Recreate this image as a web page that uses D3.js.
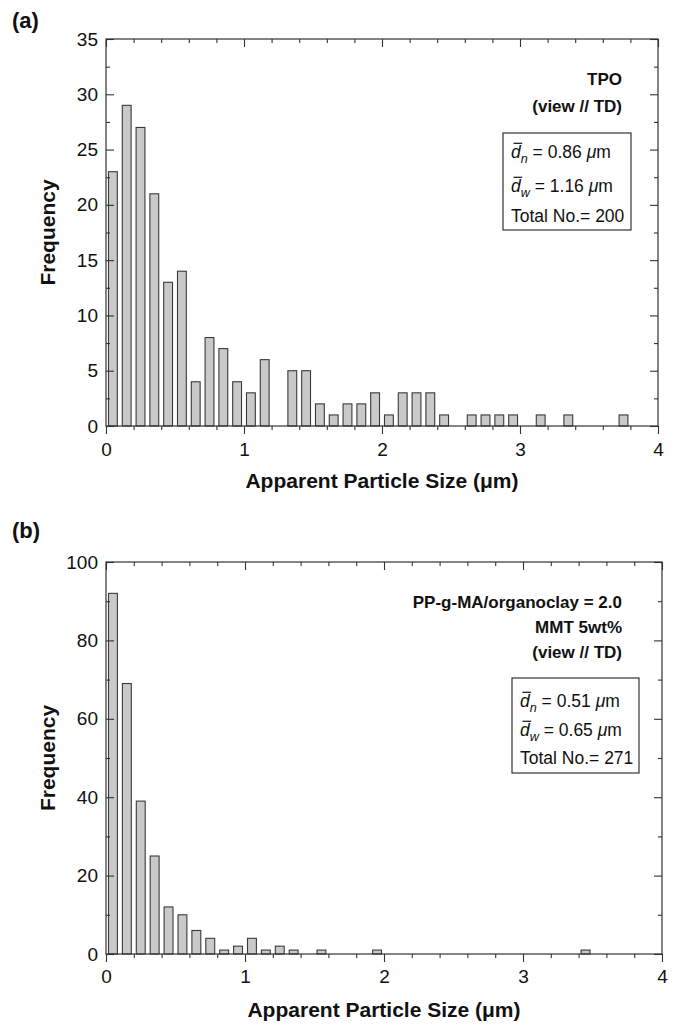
<!DOCTYPE html>
<html><head><meta charset="utf-8">
<script src="https://cdn.jsdelivr.net/npm/d3@7"></script>
<style>
body{margin:0;background:#fff}
svg{display:block}
text{font-family:"Liberation Sans",Arial,Helvetica,sans-serif;fill:#111}
</style>
</head><body>
<svg id="c" width="680" height="1025"></svg>
<script>
// ---------- data ----------
const sizesA = [0.05,0.15,0.25,0.35,0.45,0.55,0.65,0.75,0.85,0.95,
                1.05,1.15,1.25,1.35,1.45,1.55,1.65,1.75,1.85,1.95,
                2.05,2.15,2.25,2.35,2.45,2.55,2.65,2.75,2.85,2.95,
                3.05,3.15,3.25,3.35,3.45,3.55,3.65,3.75];
const freqA  = [23,29,27,21,13,14,4,8,7,4,
                3,6,0,5,5,2,1,2,2,3,
                1,3,3,3,1,0,1,1,1,1,
                0,1,0,1,0,0,0,1];
const sizesB = [0.05,0.15,0.25,0.35,0.45,0.55,0.65,0.75,0.85,0.95,
                1.05,1.15,1.25,1.35,1.45,1.55,1.65,1.75,1.85,1.95,
                2.05,2.15,2.25,2.35,2.45,2.55,2.65,2.75,2.85,2.95,
                3.05,3.15,3.25,3.35,3.45];
const freqB  = [92,69,39,25,12,10,6,4,1,2,
                4,1,2,1,0,1,0,0,0,1,
                0,0,0,0,0,0,0,0,0,0,
                0,0,0,0,1];
const xTicks = [0,1,2,3,4];
const xMinor = [0.2,0.4,0.6,0.8,1.2,1.4,1.6,1.8,2.2,2.4,2.6,2.8,3.2,3.4,3.6,3.8];
const yTicksA = [0,5,10,15,20,25,30,35];
const yMinorA = [2.5,7.5,12.5,17.5,22.5,27.5,32.5];
const yTicksB = [0,20,40,60,80,100];
const yMinorB = [10,30,50,70,90];
const labelsA = ["TPO","(view // TD)"];
const labelsB = ["PP-g-MA/organoclay = 2.0","MMT 5wt%","(view // TD)"];
const statsA = ["0.86","1.16","200"];
const statsB = ["0.51","0.65","271"];
const xTitle = "Apparent Particle Size (\u03bcm)";
const yTitle = "Frequency";

const svg = d3.select("#c");
const FONT_TICK = 19, FONT_TITLE = 21, FONT_LAB = 17, FONT_BOX = 17.5;

function panel(cfg){
  const g = svg.append("g");
  const x = d3.scaleLinear().domain([0,4]).range([cfg.left,cfg.right]);
  const y = d3.scaleLinear().domain([0,cfg.yMax]).range([cfg.bottom,cfg.top]);

  // bars
  const data = cfg.sizes.map((s,i)=>({s, f:cfg.freq[i]})).filter(d=>d.f>0);
  const bw = 0.064;
  g.selectAll("rect.bar").data(data).enter().append("rect")
    .attr("class","bar")
    .attr("x",d=>x(d.s-bw/2)).attr("width",x(bw)-x(0))
    .attr("y",d=>y(d.f)).attr("height",d=>y(0)-y(d.f))
    .attr("fill","#c9c9c9").attr("stroke","#3a3a3a").attr("stroke-width",1.1);

  const style = sel => {
    sel.select(".domain").remove();
    sel.selectAll("line").attr("stroke","#333").attr("stroke-width",1.1);
    sel.selectAll("text").attr("font-size",FONT_TICK).attr("fill","#111")
       .style("font-family",'"Liberation Sans",Arial,sans-serif');
  };
  // bottom (outward)
  g.append("g").attr("transform",`translate(0,${cfg.bottom})`)
    .call(d3.axisBottom(x).tickValues(xTicks).tickSize(8).tickPadding(cfg.xPad).tickFormat(d3.format("d"))).call(style);
  g.append("g").attr("transform",`translate(0,${cfg.bottom})`)
    .call(d3.axisBottom(x).tickValues(xMinor).tickSize(4).tickFormat("")).call(style);
  // top (inward)
  g.append("g").attr("transform",`translate(0,${cfg.top})`)
    .call(d3.axisTop(x).tickValues(xTicks).tickSize(-8).tickFormat("")).call(style);
  g.append("g").attr("transform",`translate(0,${cfg.top})`)
    .call(d3.axisTop(x).tickValues(xMinor).tickSize(-4).tickFormat("")).call(style);
  // left (inward)
  g.append("g").attr("transform",`translate(${cfg.left},0)`)
    .call(d3.axisLeft(y).tickValues(cfg.yTicks).tickSize(-8).tickPadding(8).tickFormat(d3.format("d"))).call(style);
  g.append("g").attr("transform",`translate(${cfg.left},0)`)
    .call(d3.axisLeft(y).tickValues(cfg.yMinor).tickSize(-4).tickFormat("")).call(style);
  // right (inward)
  g.append("g").attr("transform",`translate(${cfg.right},0)`)
    .call(d3.axisRight(y).tickValues(cfg.yTicks).tickSize(-8).tickFormat("")).call(style);
  g.append("g").attr("transform",`translate(${cfg.right},0)`)
    .call(d3.axisRight(y).tickValues(cfg.yMinor).tickSize(-4).tickFormat("")).call(style);

  // frame
  g.append("rect").attr("x",cfg.left).attr("y",cfg.top)
    .attr("width",cfg.right-cfg.left).attr("height",cfg.bottom-cfg.top)
    .attr("fill","none").attr("stroke","#333").attr("stroke-width",1.2);

  // titles
  g.append("text").attr("x",(cfg.left+cfg.right)/2).attr("y",cfg.xTitleY)
    .attr("text-anchor","middle").attr("font-size",FONT_TITLE).attr("font-weight","bold").text(xTitle);
  g.append("text").attr("transform",`translate(${cfg.yTitleX},${(cfg.top+cfg.bottom)/2}) rotate(-90)`)
    .attr("text-anchor","middle").attr("font-size",FONT_TITLE).attr("font-weight","bold").text(yTitle);
  g.append("text").attr("x",12).attr("y",cfg.letterY).attr("font-size",22)
    .attr("font-weight","bold").text(cfg.letter);

  // labels
  cfg.labels.forEach((t,i)=>{
    g.append("text").attr("x",cfg.labRight).attr("y",cfg.labY0+i*cfg.labDy)
      .attr("text-anchor","end").attr("font-size",FONT_LAB).attr("font-weight","bold").text(t);
  });

  // stats box
  const bx = cfg.box;
  g.append("rect").attr("x",bx.x).attr("y",bx.y).attr("width",bx.w).attr("height",bx.h)
    .attr("fill","#fff").attr("stroke","#333").attr("stroke-width",1.2);
  const tx = bx.x+8;
  const subs = ["n","w"];
  [0,1].forEach(i=>{
    const by = bx.y + bx.lines[i];
    const t = g.append("text").attr("x",tx).attr("y",by).attr("font-size",FONT_BOX);
    t.append("tspan").attr("font-style","italic").text("d");
    t.append("tspan").attr("font-style","italic").attr("font-size",FONT_BOX*0.72).attr("dy",5).text(subs[i]);
    t.append("tspan").attr("dy",-5).text(" = "+cfg.stats[i]+" ");
    t.append("tspan").attr("font-style","italic").text("\u03bc");
    t.append("tspan").text("m");
    const e = t.node().getExtentOfChar(0);
    g.append("line").attr("x1",e.x+2.5).attr("x2",e.x+e.width+1.5)
      .attr("y1",by-FONT_BOX*0.84).attr("y2",by-FONT_BOX*0.84)
      .attr("stroke","#111").attr("stroke-width",1.2);
  });
  g.append("text").attr("x",tx).attr("y",bx.y+bx.lines[2]).attr("font-size",FONT_BOX)
    .text("Total No.= "+cfg.stats[2]);
}

panel({sizes:sizesA,freq:freqA,yMax:35,yTicks:yTicksA,yMinor:yMinorA,
  left:106,right:658,top:39,bottom:426,xPad:9,xTitleY:488,yTitleX:55,
  letter:"(a)",letterY:28,labels:labelsA,labRight:622,labY0:85,labDy:27,
  stats:statsA,box:{x:503,y:133,w:128,h:97,lines:[25,59,89]}});

panel({sizes:sizesB,freq:freqB,yMax:100,yTicks:yTicksB,yMinor:yMinorB,
  left:106,right:662,top:562,bottom:954,xPad:8,xTitleY:1017,yTitleX:55,
  letter:"(b)",letterY:538,labels:labelsB,labRight:622,labY0:608,labDy:25,
  stats:statsB,box:{x:512,y:678,w:127,h:95,lines:[29,58,86]}});
</script>
</body></html>
